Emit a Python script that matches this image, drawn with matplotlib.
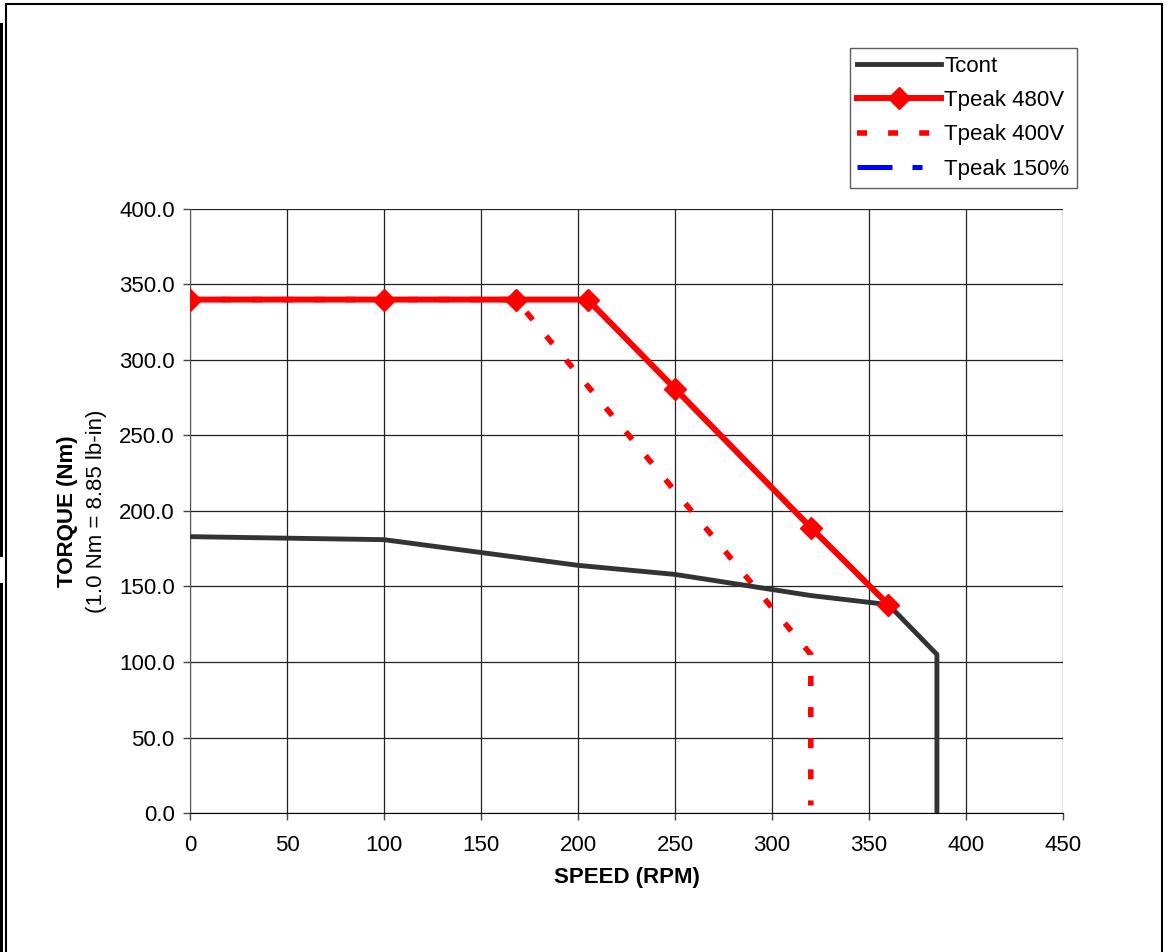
import matplotlib.pyplot as plt
from matplotlib.patches import Rectangle
from matplotlib.lines import Line2D

# Данные кривых момент/скорость
speed_cont = [0, 100, 200, 250, 320, 360, 385, 385]
torque_cont = [183, 181, 164, 158, 144, 138, 105, 0]

speed_480 = [0, 100, 168, 205, 250, 320, 360]
torque_480 = [340, 340, 340, 340, 281, 189, 138]

speed_400 = [0, 100, 168, 320, 320]
torque_400 = [340, 340, 340, 105, 5]

speed_150 = [0, 100, 168, 205]
torque_150 = [340, 340, 340, 340]

xticks = [0, 50, 100, 150, 200, 250, 300, 350, 400, 450]
yticks = [0, 50, 100, 150, 200, 250, 300, 350, 400]

plt.rcParams['font.family'] = ['Liberation Sans', 'DejaVu Sans']
FS = 16

fig = plt.figure(figsize=(11.67, 9.52), dpi=100)
ax = fig.add_axes([0.1628, 0.1460, 0.7481, 0.6345])

# синяя кривая целиком лежит под красной 480V
ax.plot(speed_150, torque_150, color='blue', lw=1.5, dashes=(6.5, 3.6, 2, 3.6), zorder=1)
l400, = ax.plot(speed_400, torque_400, color='red', lw=4.0, dashes=(1.8, 3.8),
                dash_capstyle='butt', label='Tpeak 400V', zorder=3)
lcont, = ax.plot(speed_cont, torque_cont, color='#333333', lw=3.5,
                 label='Tcont', zorder=4)
l480, = ax.plot(speed_480, torque_480, color='red', lw=4.3, marker='D',
                markersize=11, label='Tpeak 480V', zorder=5)
l150 = Line2D([], [], color='blue', lw=3.6, dashes=(7, 4, 2, 4), label='Tpeak 150%')

ax.set_xlim(0, 450)
ax.set_ylim(0, 400)
ax.set_xticks(xticks)
ax.set_yticks(yticks)
ax.set_yticklabels(['%.1f' % v for v in yticks])
ax.tick_params(labelsize=FS, length=5, width=1, direction='out', color='#444444')
ax.tick_params(axis='x', pad=11)
ax.tick_params(axis='y', pad=6)
ax.grid(True, color='#222222', lw=0.9)
ax.set_axisbelow(True)
ax.spines['top'].set_visible(False)
ax.spines['right'].set_visible(False)
ax.spines['left'].set_color('#555555')
ax.spines['bottom'].set_color('black')

ax.set_xlabel('SPEED (RPM)', fontsize=FS, fontweight='bold', labelpad=8)
fig.text(0.0575, 0.463, 'TORQUE (Nm)', rotation=90, fontsize=FS, fontweight='bold',
         ha='center', va='center')
fig.text(0.083, 0.463, '(1.0 Nm = 8.85 lb-in)', rotation=90, fontsize=FS,
         ha='center', va='center')

leg = fig.legend(handles=[lcont, l480, l400, l150], loc='upper right',
                 bbox_to_anchor=(1077 / 1167, 1 - 48 / 952), fontsize=FS, frameon=True,
                 fancybox=False, edgecolor='#333333', handlelength=3.75,
                 handletextpad=0.15, borderpad=0.35, labelspacing=0.6,
                 borderaxespad=0)
leg.get_frame().set_linewidth(1)

# рамка вокруг всей картинки
fig.patches.append(Rectangle((6 / 1167, -2 / 952), 1156 / 1167, 950 / 952,
                             transform=fig.transFigure, fill=False,
                             edgecolor='black', lw=1.5))
# тёмные полосы у левого края
fig.patches.append(Rectangle((0, 1 - 557 / 952), 3 / 1167, (557 - 23) / 952,
                             transform=fig.transFigure, color='black', lw=0))
fig.patches.append(Rectangle((0, 0), 3 / 1167, 1 - 583 / 952,
                             transform=fig.transFigure, color='black', lw=0))

fig.savefig('out.png', dpi=100)
